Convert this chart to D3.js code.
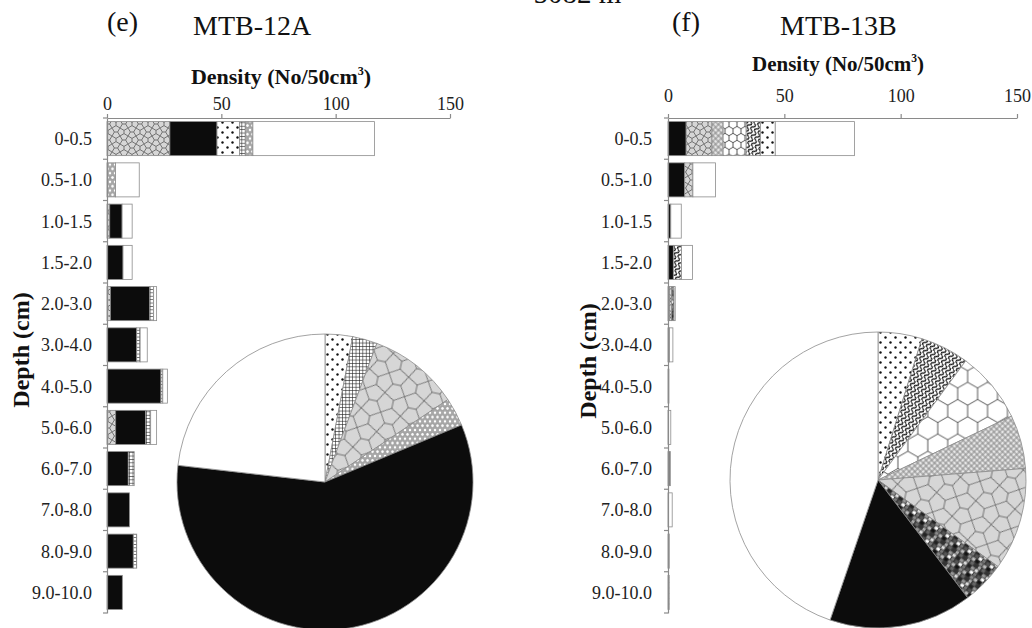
<!DOCTYPE html>
<html>
<head>
<meta charset="utf-8">
<script src="https://cdn.jsdelivr.net/npm/d3@7"></script>
<style>
  body { margin: 0; background: #fff; }
  svg { display: block; font-family: "Liberation Serif", "Times New Roman", serif; }
</style>
</head>
<body>
<svg id="chart" width="1032" height="628"></svg>
<script>
// ─── 1. DATA ──────────────────────────────────────────────────────────────────

const DEPTHS = ["0-0.5", "0.5-1.0", "1.0-1.5", "1.5-2.0", "2.0-3.0", "3.0-4.0",
                "4.0-5.0", "5.0-6.0", "6.0-7.0", "7.0-8.0", "8.0-9.0", "9.0-10.0"];
const X_TICKS = [0, 50, 100, 150];

// MTB-12A, density per depth (No/50cm3), stacked left to right
const A_POLYGON = [27.5, 0,    1.2, 0,   1.5,  0,   0,    3.8,  0,   0,   0,    0];
const A_BLACK   = [20.6, 0,    5.4, 7.0, 17.2, 13.0, 23.6, 13.1, 9.3, 9.8, 11.5, 6.7];
const A_DOTS    = [9.9,  0,    0,   0,   0,    0,   0,    0,    0,   0,   0,    0];
const A_GRID    = [2.5,  0,    0,   0,   1.7,  1.5, 0.8,  2.2,  2.6, 0,   1.5,  0];
const A_HEXDOT  = [3.3,  3.7,  0,   0,   0,    0,   0,    0,    0,   0,   0,    0];
const A_WHITE   = [53.2, 10.4, 4.4, 4.0, 1.3,  3.1, 2.0,  2.6,  0,   0,   0,    0];

// MTB-12A, share of total (%), clockwise from 12 o'clock
const A_PIE_KEYS  = ["dots", "grid", "polygon", "hexdot", "black", "white"];
const A_PIE_SHARE = [3.0, 2.7, 9.9, 3.1, 58.1, 23.2];

// MTB-13B, density per depth (No/50cm3), stacked left to right
const B_BLACK    = [7.8,  7.2, 1.2, 2.3, 0.6, 0.3, 0.2, 0,   0.8, 0,   0.4, 0.3];
const B_POLYGON  = [11.1, 3.5, 0,   0,   1.0, 0.3, 0.2, 0,   0,   0,   0,   0.2];
const B_WEAVE    = [4.8,  0,   0,   0,   0,   0,   0,   0,   0,   0,   0,   0];
const B_HEXAGON  = [9.9,  0,   0,   0,   0,   0,   0,   0,   0,   0,   0,   0];
const B_SQUIGGLE = [6.1,  0,   0,   3.5, 0,   0,   0,   0,   0,   0,   0,   0];
const B_DOTS     = [6.4,  0,   0,   0,   0,   0,   0,   0,   0,   0,   0,   0];
const B_MOSAIC   = [0,    0,   0,   0,   1.0, 0,   0,   0,   0,   0,   0,   0];
const B_WHITE    = [34.1, 9.7, 4.5, 4.7, 0.5, 1.5, 0,   1.2, 0.2, 1.8, 0.1, 0];

// MTB-13B, share of total (%), clockwise from 12 o'clock
const B_PIE_KEYS  = ["dots", "squiggle", "hexagon", "weave", "polygon", "mosaic", "black", "white"];
const B_PIE_SHARE = [4.8, 5.3, 7.8, 5.85, 11.2, 4.7, 15.6, 44.75];

// ─── 2. FILL PATTERNS ─────────────────────────────────────────────────────────

const svg  = d3.select("#chart");
const defs = svg.append("defs");
const AXIS_GREY = "#8a8a8a";

function makePattern(id, w, h, transform) {
  const p = defs.append("pattern").attr("id", id)
    .attr("patternUnits", "userSpaceOnUse")
    .attr("width", w).attr("height", h);
  if (transform) p.attr("patternTransform", transform);
  return p;
}

// Cairo pentagonal net inside a 2u x 2u tile
function cairoPath(u, t) {
  const cells = [[0, 0, "h"], [1, 0, "v"], [0, 1, "v"], [1, 1, "h"]];
  let d = "";
  const seg = (a, b) => { d += `M${a[0] * u},${a[1] * u}L${b[0] * u},${b[1] * u}`; };
  cells.forEach(([cx, cy, o]) => {
    const mx = cx + 0.5, my = cy + 0.5;
    if (o === "h") {
      const L = [mx - t, my], R = [mx + t, my];
      seg(L, R); seg(L, [cx, cy]); seg(L, [cx, cy + 1]); seg(R, [cx + 1, cy]); seg(R, [cx + 1, cy + 1]);
    } else {
      const T = [mx, my - t], B = [mx, my + t];
      seg(T, B); seg(T, [cx, cy]); seg(T, [cx + 1, cy]); seg(B, [cx, cy + 1]); seg(B, [cx + 1, cy + 1]);
    }
  });
  return d;
}

function addPatterns(sfx, k, rot) {
  // dots
  let p = makePattern(`dots${sfx}`, 10, 10);
  p.append("rect").attr("width", 10).attr("height", 10).attr("fill", "#fff");
  p.append("circle").attr("cx", 2.5).attr("cy", 2.5).attr("r", 1.2).attr("fill", "#111");
  p.append("circle").attr("cx", 7.5).attr("cy", 7.5).attr("r", 1.2).attr("fill", "#111");

  // fine square grid
  p = makePattern(`grid${sfx}`, 3.4, 3.4);
  p.append("rect").attr("width", 3.4).attr("height", 3.4).attr("fill", "#fff");
  p.append("path").attr("d", "M0,0.3H3.4M0.3,0V3.4").attr("stroke", "#222").attr("stroke-width", 0.7);

  // grey polygon net
  const u = 20 * k;
  p = makePattern(`polygon${sfx}`, 2 * u, 2 * u, `rotate(${rot})`);
  p.append("rect").attr("width", 2 * u).attr("height", 2 * u).attr("fill", "#d6d6d6");
  p.append("path").attr("d", cairoPath(u, 0.2)).attr("stroke", "#5a5a5a")
    .attr("stroke-width", 0.8).attr("fill", "none");

  // grey with white beads
  p = makePattern(`hexdot${sfx}`, 5, 8.66);
  p.append("rect").attr("width", 5).attr("height", 8.66).attr("fill", "#a8a8a8");
  [[0, 0], [5, 0], [0, 8.66], [5, 8.66], [2.5, 4.33]].forEach(([cx, cy]) =>
    p.append("circle").attr("cx", cx).attr("cy", cy).attr("r", 1.7)
      .attr("fill", "#fff").attr("stroke", "#777").attr("stroke-width", 0.4));

  // honeycomb outlines
  const R = 11.5 * k, w = Math.sqrt(3) * R;
  p = makePattern(`hexagon${sfx}`, w, 3 * R);
  p.append("rect").attr("width", w).attr("height", 3 * R).attr("fill", "#fff");
  p.append("path")
    .attr("d", `M${w / 2},${0.5 * R}L${w},${R}L${w},${2 * R}L${w / 2},${2.5 * R}L0,${2 * R}L0,${R}Z` +
               `M${w / 2},0V${0.5 * R}M${w / 2},${2.5 * R}V${3 * R}`)
    .attr("stroke", "#444").attr("stroke-width", 0.9).attr("fill", "none");

  // diagonal basket weave
  p = makePattern(`weave${sfx}`, 8, 8, "rotate(45)");
  p.append("rect").attr("width", 8).attr("height", 8).attr("fill", "#808080");
  [[0.5, 0.5, 3, 1.3], [0.5, 2.2, 3, 1.3], [4.5, 0.5, 1.3, 3], [6.2, 0.5, 1.3, 3],
   [0.5, 4.5, 1.3, 3], [2.2, 4.5, 1.3, 3], [4.5, 4.5, 3, 1.3], [4.5, 6.2, 3, 1.3]]
    .forEach(([x, y, rw, rh]) => p.append("rect").attr("x", x).attr("y", y)
      .attr("width", rw).attr("height", rh).attr("fill", "#fff"));

  // dark squiggles
  p = makePattern(`squiggle${sfx}`, 7, 4.2, "rotate(-62)");
  p.append("rect").attr("width", 7).attr("height", 4.2).attr("fill", "#fff");
  p.append("path").attr("d", "M0,2.1C1.75,-0.5 1.75,-0.5 3.5,2.1S5.25,4.7 7,2.1")
    .attr("stroke", "#151515").attr("stroke-width", 1.3).attr("fill", "none");

  // mixed grey tesserae
  const greys = ["#222", "#999", "#ddd", "#555", "#fff", "#777", "#bbb", "#111", "#888",
                 "#666", "#333", "#aaa"];
  p = makePattern(`mosaic${sfx}`, 13.5, 16, "rotate(35)");
  p.append("rect").attr("width", 13.5).attr("height", 16).attr("fill", "#3a3a3a");
  greys.forEach((c, i) => p.append("rect")
    .attr("x", (i % 3) * 4.5 + 0.4 + (Math.floor(i / 3) % 2) * 1.2)
    .attr("y", Math.floor(i / 3) * 4 + 0.4)
    .attr("width", 3.5).attr("height", 3.2).attr("fill", c));

  // plain fills
  p = makePattern(`black${sfx}`, 4, 4);
  p.append("rect").attr("width", 4).attr("height", 4).attr("fill", "#0c0c0c");
  p = makePattern(`white${sfx}`, 4, 4);
  p.append("rect").attr("width", 4).attr("height", 4).attr("fill", "#fff");
}

addPatterns("-bar", 0.4, 0);
addPatterns("-pie", 1, 12);

// ─── 3. STACKED DEPTH BARS ────────────────────────────────────────────────────

function drawPanel(cfg) {
  const { left, right, top, bottom, keys, series, tickPad, depthPad } = cfg;
  const g = svg.append("g");

  const x = d3.scaleLinear().domain([0, 150]).range([left, right]);
  const y = d3.scaleBand().domain(DEPTHS).range([top, bottom])
    .paddingInner(0.175).paddingOuter(0.0875);

  const rows = DEPTHS.map((depth, i) => {
    const r = { depth };
    keys.forEach(k => { r[k] = series[k][i]; });
    return r;
  });
  const stacked = d3.stack().keys(keys)(rows);

  g.append("g").selectAll("g").data(stacked).join("g")
    .attr("fill", s => `url(#${s.key}-bar)`)
    .selectAll("rect").data(s => s.filter(d => d[1] - d[0] > 0)).join("rect")
      .attr("x", d => x(d[0]))
      .attr("y", d => y(d.data.depth))
      .attr("width", d => x(d[1]) - x(d[0]))
      .attr("height", y.bandwidth())
      .attr("stroke", "#8c8c8c")
      .attr("stroke-width", 0.8);

  // x axis on top
  const xAxis = g.append("g").attr("transform", `translate(0,${top})`)
    .call(d3.axisTop(x).tickValues(X_TICKS).tickSize(4).tickSizeOuter(0).tickPadding(tickPad));
  xAxis.selectAll("text").attr("font-size", 18).attr("fill", "#222")
    .attr("font-family", "Liberation Serif");

  // y axis with depth labels, ticks between the bands
  const yAxis = g.append("g").attr("transform", `translate(${left},0)`)
    .call(d3.axisLeft(y).tickSize(0).tickSizeOuter(0).tickPadding(depthPad));
  yAxis.selectAll("text").attr("font-size", 18).attr("fill", "#222")
    .attr("font-family", "Liberation Serif").attr("dy", "0.36em");

  const gap = (y.step() - y.bandwidth()) / 2;
  const bounds = DEPTHS.map(d => y(d) - gap).concat([bottom]);
  g.append("g").selectAll("line").data(bounds).join("line")
    .attr("x1", left - 4).attr("x2", left)
    .attr("y1", d => d).attr("y2", d => d)
    .attr("stroke", AXIS_GREY).attr("stroke-width", 1.2);

  g.selectAll(".domain, .tick line").attr("stroke", AXIS_GREY).attr("stroke-width", 1.2);
  return { x, y };
}

// ─── 4. PIE INSETS ────────────────────────────────────────────────────────────

function drawPie(cx, cy, r, keys, shares) {
  const slices = d3.pie().sort(null).value(d => d.share)(
    keys.map((key, i) => ({ key, share: shares[i] })));
  const arc = d3.arc().innerRadius(0).outerRadius(r);
  svg.append("g").attr("transform", `translate(${cx},${cy})`)
    .selectAll("path").data(slices).join("path")
      .attr("d", arc)
      .attr("fill", d => `url(#${d.data.key}-pie)`)
      .attr("stroke", "#8c8c8c")
      .attr("stroke-width", 0.8);
}

// ─── 5. TEXT ──────────────────────────────────────────────────────────────────

function densityTitle(x, y, size) {
  const t = svg.append("text").attr("x", x).attr("y", y).attr("text-anchor", "middle")
    .attr("font-size", size).attr("font-weight", "bold").attr("fill", "#111");
  t.append("tspan").text("Density (No/50cm");
  t.append("tspan").attr("font-size", size * 0.55).attr("dy", -size * 0.42).text("3");
  t.append("tspan").attr("dy", size * 0.42).text(")");
}

function depthTitle(x, y) {
  svg.append("text").attr("transform", `translate(${x},${y}) rotate(-90)`)
    .attr("text-anchor", "middle").attr("font-size", 24).attr("font-weight", "bold")
    .attr("fill", "#111").text("Depth (cm)");
}

function plainText(x, y, str, size) {
  svg.append("text").attr("x", x).attr("y", y).attr("font-size", size)
    .attr("fill", "#111").text(str);
}

// ─── 6. BUILD ─────────────────────────────────────────────────────────────────

drawPanel({
  left: 107, right: 450, top: 118, bottom: 613, tickPad: 4, depthPad: 15,
  keys: ["polygon", "black", "dots", "grid", "hexdot", "white"],
  series: { polygon: A_POLYGON, black: A_BLACK, dots: A_DOTS, grid: A_GRID,
            hexdot: A_HEXDOT, white: A_WHITE },
});

drawPanel({
  left: 668, right: 1017, top: 118, bottom: 613, tickPad: 12, depthPad: 16,
  keys: ["black", "polygon", "weave", "hexagon", "squiggle", "dots", "mosaic", "white"],
  series: { black: B_BLACK, polygon: B_POLYGON, weave: B_WEAVE, hexagon: B_HEXAGON,
            squiggle: B_SQUIGGLE, dots: B_DOTS, mosaic: B_MOSAIC, white: B_WHITE },
});

drawPie(325, 482, 148, A_PIE_KEYS, A_PIE_SHARE);
drawPie(878, 480, 148, B_PIE_KEYS, B_PIE_SHARE);

plainText(510, 3, "= 5082 m", 29);
plainText(107, 31, "(e)", 28);
plainText(193, 35, "MTB-12A", 28);
plainText(672, 31, "(f)", 28);
plainText(780, 35, "MTB-13B", 28);

densityTitle(281, 84, 22);
densityTitle(838, 71, 21);

depthTitle(29, 350);
depthTitle(596, 361);
</script>
</body>
</html>
